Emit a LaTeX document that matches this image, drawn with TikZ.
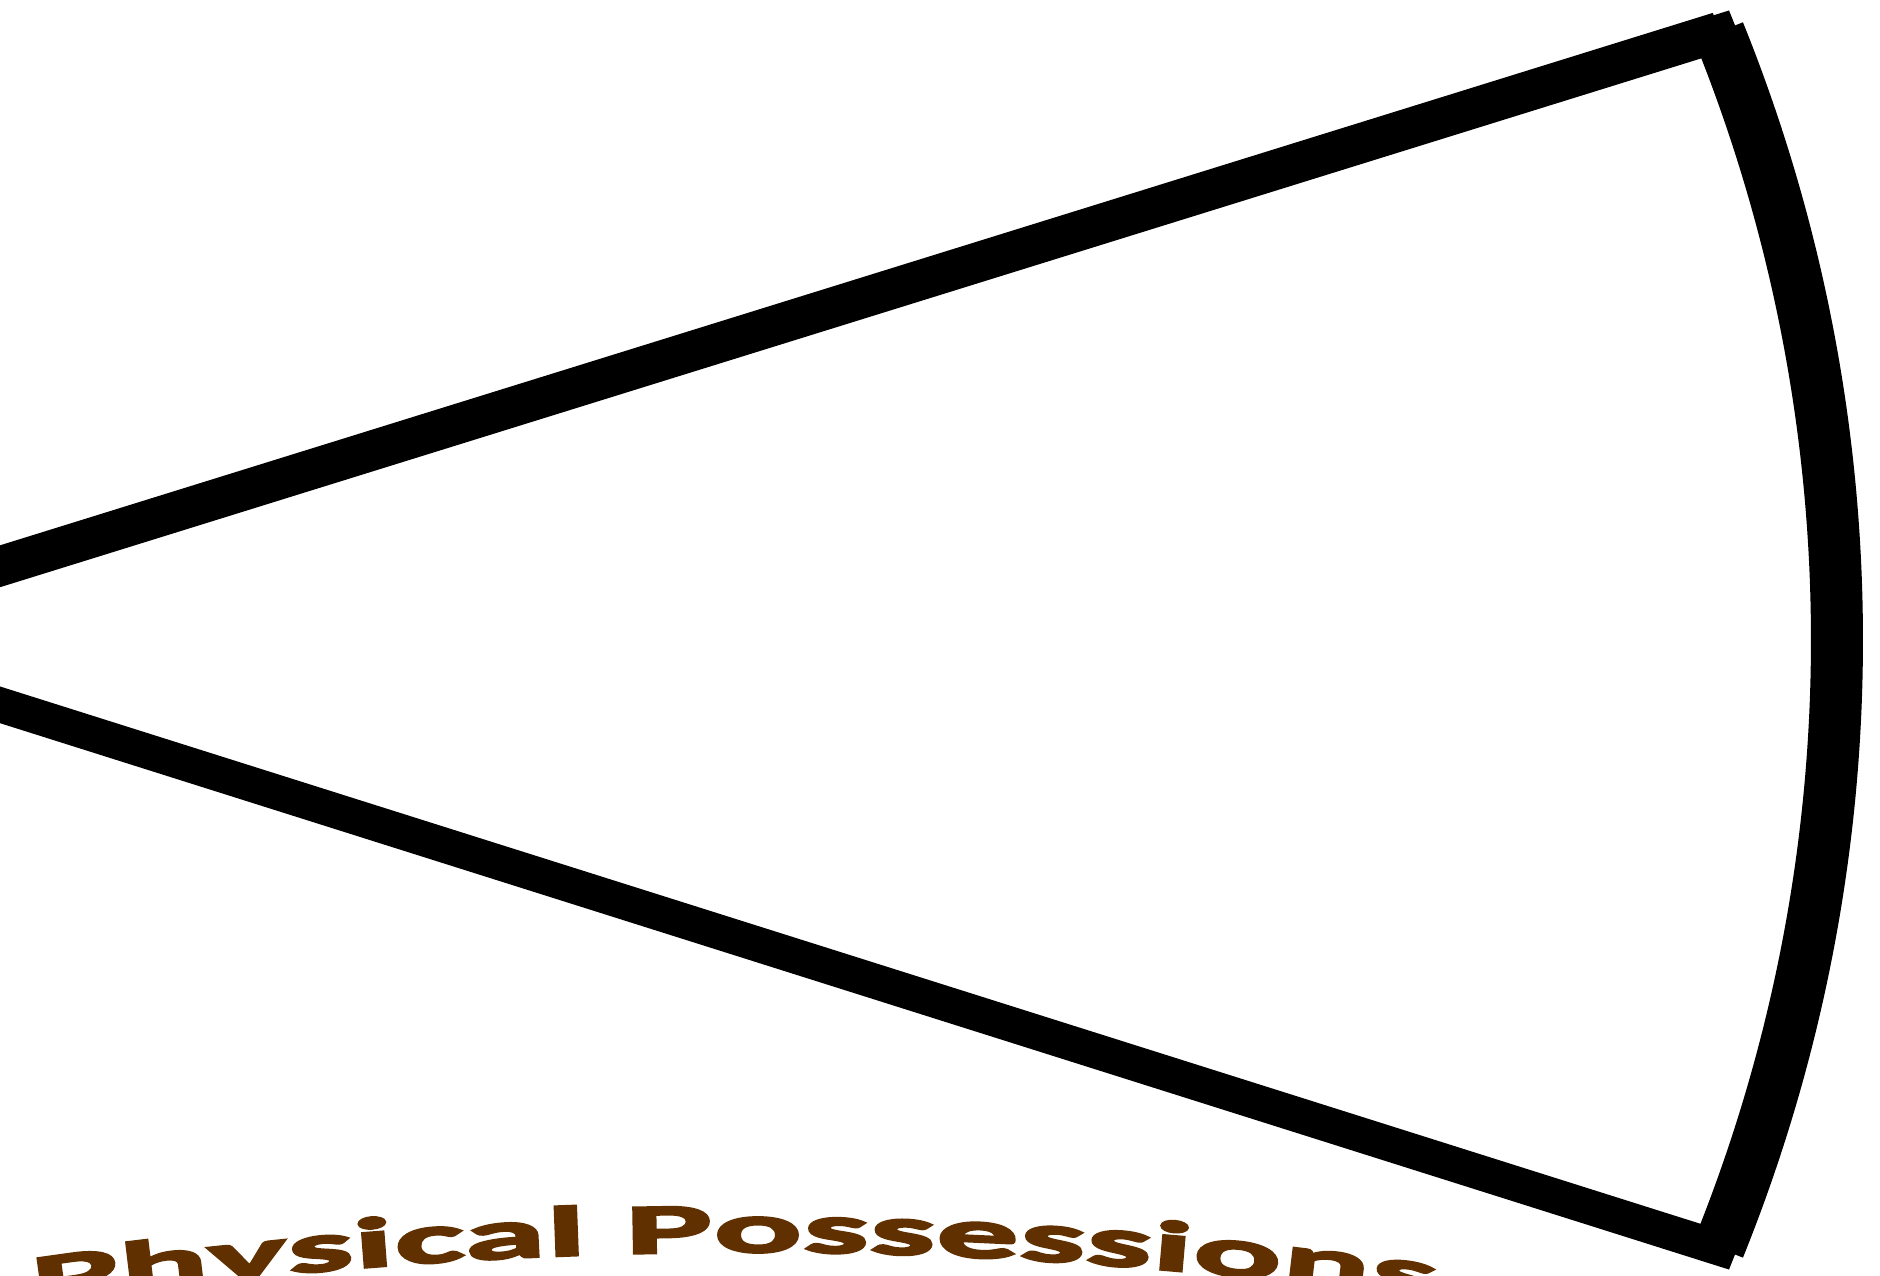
\documentclass[tikz,border=0pt]{standalone}
\usepackage{fontspec}
\usetikzlibrary{decorations.text}

\newfontfamily\possfont{Carlito}[FakeStretch=2.37,FakeBold=4]
\definecolor{possbrown}{RGB}{96,48,0}
\newcommand\possstyle{\possfont\bfseries\fontsize{70}{84}\selectfont\color{possbrown}}

\begin{document}
\begin{tikzpicture}[
		x=1pt,
		y=1pt,
		rim/.style={
			draw=black,
			line width=35pt,
			line join=miter
		},
		rimline/.style={
			draw=black,
			line width=40pt
		},
		rimarc/.style={
			draw=black,
			line width=52pt
		}
		]
		
		\useasboundingbox (0,0) rectangle (1880,1276);
		\clip (0,0) rectangle (1880,1276);
		
		%--------------------------------------------------
		% Corners of the slice
		%--------------------------------------------------
		
		\coordinate (tip) at (-221,641);
		\coordinate (upper) at (1718.8,1244);
		\coordinate (lower) at (1718.8,28);
		
		%--------------------------------------------------
		% Slice outline
		%--------------------------------------------------
		
		\draw[rim]
		(tip) -- (upper)
		arc[start angle=22,end angle=-22,radius=1623]
		-- cycle;
		
		\draw[rimline]
		(tip) -- (upper);
		
		\draw[rimarc]
		(upper) arc[start angle=22,end angle=-22,radius=1623];
		
		%--------------------------------------------------
		% Arched label
		%--------------------------------------------------
		
		\coordinate (labelstart) at (35,-29);
		
		\path[decorate,
		decoration={text along path,
			text align=left,
			text={|\possstyle|Physical Possessions}}]
		(labelstart) arc[start angle=98.47,end angle=75,radius=4855];
		
	\end{tikzpicture}
\end{document}
